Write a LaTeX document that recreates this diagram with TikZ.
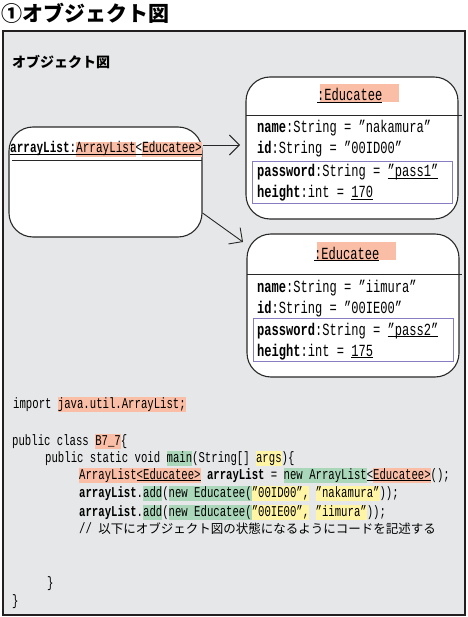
\documentclass[tikz,border=0pt]{standalone}
\usepackage{fontspec}
\usetikzlibrary{arrows.meta}
\newfontfamily\jp{Noto Sans CJK JP}
\newfontfamily\codefont[FakeStretch=0.71]{Liberation Mono}
\definecolor{bgg}{RGB}{230,231,232}
\definecolor{frame}{RGB}{35,31,32}
\definecolor{linec}{RGB}{40,40,40}
\definecolor{salm}{RGB}{249,190,165}
\definecolor{grn}{RGB}{170,215,185}
\definecolor{ylw}{RGB}{255,245,165}
\definecolor{purp}{RGB}{135,125,195}
\newsavebox\ulbox
\newcommand\ulx[1]{\sbox\ulbox{#1}\usebox\ulbox\llap{\rule[-1.6pt]{\wd\ulbox}{0.7pt}}}
\newcommand\hlt[2]{{\setlength{\fboxsep}{0pt}\colorbox{#1}{\rule[-.27em]{0pt}{1em}#2}}}
\frenchspacing
\tikzset{
  code/.style={anchor=base west, inner sep=0pt, font=\codefont\fontsize{15}{18}\selectfont},
  boxtxt/.style={anchor=base west, inner sep=0pt, font=\codefont\fontsize{17}{20}\selectfont},
  objbox/.style={draw=linec, line width=1.1pt, fill=white, rounded corners=24pt, inner sep=0pt},
  arr/.style={draw=linec, line width=0.9pt, -{Straight Barb[length=10pt,width=20pt]}},
  sepline/.style={draw=linec, line width=0.9pt},
  inbox/.style={draw=purp, line width=0.8pt},
  jptext/.style={anchor=west, inner sep=0pt},
}
\begin{document}
\begin{tikzpicture}[x=1pt,y=-1pt]
\useasboundingbox (0,0) rectangle (467,617);
% title
\node[jptext, font=\jp\bfseries\fontsize{21}{24}\selectfont] (title) at (1,13.5) {①オブジェクト図};
% background panel
\draw[draw=frame, line width=1.5pt, fill=bgg] (3,31) rectangle (465,615);
\node[jptext, font=\jp\bfseries\fontsize{14}{16}\selectfont] (lbl) at (12,62.5) {オブジェクト図};

% object boxes
\node[objbox, minimum width=193pt, minimum height=110pt] (L) at (105.5,182) {};
\node[objbox, minimum width=212pt, minimum height=142pt] (O1) at (352,148) {};
\node[objbox, minimum width=212pt, minimum height=143pt] (O2) at (353,305.5) {};

% header highlights
\fill[salm] (320,84) rectangle (399,102);
\fill[salm] (317,242) rectangle (396,260);

% separators
\draw[sepline] (12,160) -- (202,160);
\draw[sepline] (246,115) -- (462,115);
\draw[sepline] (247,274) -- (462,274);

% inner boxes
\draw[inbox] (252,161) rectangle (452,203);
\draw[inbox] (253,318) rectangle (453,361);

% left object text
\node[anchor=base west, inner sep=0pt, font=\codefont\fontsize{15.5}{18}\selectfont] (ltxt) at (10,153)
  {\ulx{\textbf{arrayList}:\hlt{salm}{ArrayList}<\hlt{salm}{Educatee>}}};

% object 1 text
\node[boxtxt] (h1) at (317,101) {\ulx{:Educatee}};
\node[boxtxt] (n1) at (257,133) {\textbf{name}:String = ”nakamura”};
\node[boxtxt] (i1) at (257,154) {\textbf{id}:String = ”00ID00”};
\node[boxtxt] (p1) at (257,177) {\textbf{password}:String = \ulx{”pass1”}};
\node[boxtxt] (g1) at (257,198) {\textbf{height}:int = \ulx{170}};

% object 2 text
\node[boxtxt] (h2) at (314,259) {\ulx{:Educatee}};
\node[boxtxt] (n2) at (257,292) {\textbf{name}:String = ”iimura”};
\node[boxtxt] (i2) at (257,313) {\textbf{id}:String = ”00IE00”};
\node[boxtxt] (p2) at (257,335) {\textbf{password}:String = \ulx{”pass2”}};
\node[boxtxt] (g2) at (257,356) {\textbf{height}:int = \ulx{175}};

% arrows
\coordinate (t1) at (240,145);
\coordinate (t2) at (243,242);
\coordinate (a2) at (0,213);
\draw[arr] (L.east |- t1) -- (t1);
\draw[arr] (L.east |- a2) -- (t2);

% code
\node[code] (c1) at (13,408) {import \hlt{salm}{java.util.ArrayList;}};
\node[code] (c2) at (12,445) {public class \hlt{salm}{B7\_7}\{};
\node[code] (c3) at (45,462) {public static void \hlt{grn}{main}(String[] \hlt{ylw}{args})\{};
\node[code] (c4) at (79,479) {\hlt{salm}{ArrayList\ulx{<Educatee>}} \textbf{arrayList} = \hlt{grn}{new ArrayList}\ulx{<\hlt{salm}{Educatee>}}();};
\node[code] (c5) at (79,497) {\textbf{arrayList}.\hlt{grn}{add}(\hlt{grn}{new Educatee(}\hlt{ylw}{”00ID00”,} \hlt{ylw}{”nakamura”}));};
\node[code] (c6) at (79,516) {\textbf{arrayList}.\hlt{grn}{add}(\hlt{grn}{new Educatee(}\hlt{ylw}{”00IE00”,} \hlt{ylw}{”iimura”}));};
\node[code] (c7) at (79,533) {// {\jp\fontsize{12.5}{15}\selectfont 以下にオブジェクト図の状態になるようにコードを記述する}};
\node[code] (c8) at (47,587) {\}};
\node[code] (c9) at (12,605) {\}};
\end{tikzpicture}
\end{document}
